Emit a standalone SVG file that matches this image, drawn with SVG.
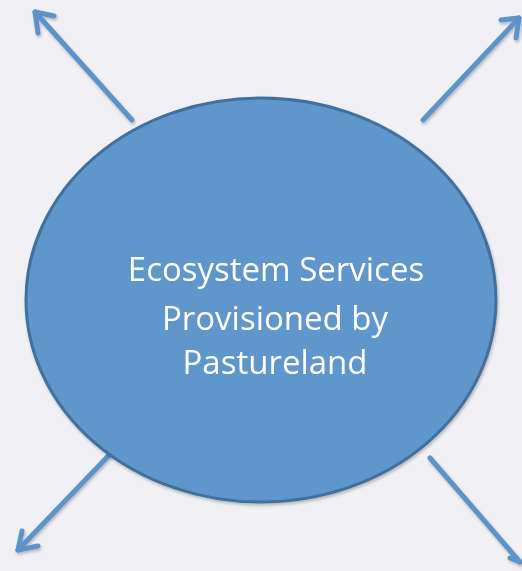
<svg xmlns="http://www.w3.org/2000/svg" width="522" height="571" viewBox="0 0 522 571">
  <style>
    .conn { stroke: #5b93cb; stroke-width: 5; fill: none; stroke-linecap: round; stroke-linejoin: round; }
    .label { font-family: "Open Sans", "Liberation Sans", sans-serif; font-size: 33px; fill: #ffffff; text-anchor: middle; }
  </style>
  <defs>
    <filter id="shadow" x="-10%" y="-10%" width="120%" height="120%">
      <feGaussianBlur in="SourceAlpha" stdDeviation="1.5"/>
      <feOffset dx="1" dy="2" result="b"/>
      <feComponentTransfer><feFuncA type="linear" slope="0.25"/></feComponentTransfer>
      <feMerge><feMergeNode/><feMergeNode in="SourceGraphic"/></feMerge>
    </filter>
  </defs>
  <rect width="522" height="571" fill="#f1f0f4"/>
  <g id="connectors" filter="url(#shadow)">
    <!-- top-left -->
    <path class="conn" d="M132,120 L35,12"/>
    <path class="conn" d="M38,33 L35,12 L54,16"/>
    <!-- top-right -->
    <path class="conn" d="M423,120 L519,18"/>
    <path class="conn" d="M501,20 L519,18 L516,38"/>
    <!-- bottom-left -->
    <path class="conn" d="M114,450 L18,550"/>
    <path class="conn" d="M22,531 L18,550 L38,546"/>
    <!-- bottom-right -->
    <path class="conn" d="M430,458 L520,562"/>
    <path class="conn" d="M510,558 L520,562"/>
  </g>
  <g id="node-center" filter="url(#shadow)">
    <ellipse cx="261" cy="300" rx="235" ry="202" fill="#5e96cb" stroke="#41709e" stroke-width="3"/>
    <text class="label" x="276" y="281">Ecosystem Services</text>
    <text class="label" x="275" y="330">Provisioned by</text>
    <text class="label" x="275" y="374">Pastureland</text>
  </g>
</svg>
